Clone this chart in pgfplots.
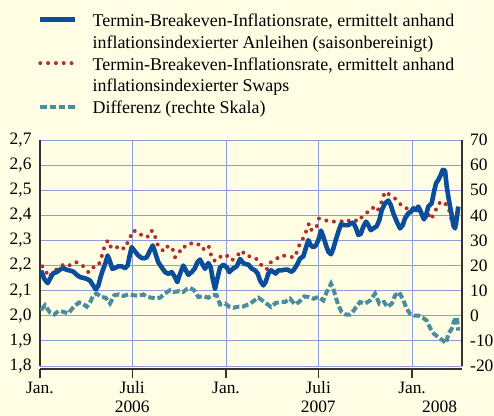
\documentclass[border=0pt]{standalone}
\usepackage{pgfplots}
\pgfplotsset{compat=1.18}
\usepackage{pgfplotstable}
\usepackage{fontspec}
\setmainfont{Liberation Serif}
\definecolor{bgc}{HTML}{FFFDE4}
\definecolor{gridc}{HTML}{8C9EDA}
\definecolor{bluec}{HTML}{0A4E9B}
\definecolor{redc}{HTML}{B0302E}
\definecolor{tealc}{HTML}{4A8D9E}
\definecolor{axisc}{HTML}{333333}

% x = days since 1 Jan 2006
\pgfplotstableread{
x y
2 2.18
8.4 2.147
15.1 2.13
19.6 2.147
26.1 2.17
32.8 2.174
39.2 2.184
45.7 2.19
52.4 2.183
58.9 2.18
65.3 2.176
72.0 2.163
78.5 2.154
85.0 2.151
91.6 2.147
98.1 2.14
104.6 2.12
109.3 2.105
114.4 2.12
119.7 2.16
124.2 2.187
128.9 2.213
132.8 2.24
137.4 2.216
141.9 2.187
147.2 2.19
153.6 2.197
160.3 2.197
166.8 2.19
172.1 2.2
175.2 2.233
179.9 2.273
186.4 2.256
192.9 2.24
199.6 2.23
205 2.229
209.4 2.233
215.9 2.26
221.2 2.28
225.7 2.253
232.1 2.213
238.8 2.193
245.3 2.174
251.8 2.167
258.4 2.174
264.9 2.154
269.4 2.134
274.7 2.167
281.2 2.2
286.5 2.18
291.0 2.163
297.7 2.174
304.2 2.19
308.7 2.213
314.0 2.224
319.3 2.203
323.8 2.187
330.3 2.21
335.0 2.193
338.9 2.147
343.4 2.107
347.9 2.147
353.2 2.193
359.7 2.203
366.4 2.193
371.5 2.174
378.1 2.187
386.0 2.197
392.5 2.226
398.9 2.21
404 2.205
408.8 2.204
415.4 2.188
421.9 2.181
427.2 2.168
431.7 2.141
438.2 2.121
442.9 2.135
448.0 2.168
453.3 2.181
457.8 2.175
462.5 2.168
467.6 2.181
474.3 2.181
480.8 2.184
486.1 2.184
492.5 2.175
497.1 2.181
503.7 2.201
510.2 2.228
516.7 2.237
521.4 2.268
526.5 2.301
531.2 2.281
536.3 2.272
541.6 2.281
546.1 2.301
551.4 2.339
555.9 2.315
561.2 2.281
565.7 2.255
571.0 2.245
575.5 2.268
580.2 2.301
585.4 2.335
590.7 2.365
597.1 2.361
605.0 2.361
610 2.368
614.8 2.371
620.1 2.348
624.6 2.322
629.3 2.326
634.4 2.355
639.7 2.375
644.2 2.361
648.9 2.341
654.0 2.348
660.7 2.357
665.8 2.381
670.5 2.421
677.0 2.448
683.5 2.459
688.2 2.441
693.3 2.408
700.0 2.375
706.4 2.348
711.7 2.361
716.2 2.388
722.7 2.408
728.0 2.415
732.5 2.428
737.8 2.421
742.3 2.435
747.0 2.415
751.0 2.395
753.5 2.384
757.4 2.401
761.9 2.435
768.6 2.448
773.1 2.494
777.1 2.528
781.6 2.541
786.3 2.561
790.2 2.581
794.7 2.578
798.1 2.514
801.2 2.474
804.5 2.435
807.8 2.401
811.0 2.361
814.3 2.348
817.7 2.388
820.8 2.435
}\bluetab

\pgfplotstableread{
x y
4.5 2.197
11.1 2.18
16.4 2.154
26.1 2.171
34.7 2.19
45.7 2.203
55.6 2.197
65.3 2.213
73.9 2.213
85.0 2.197
94.8 2.174
101.4 2.193
109.9 2.193
117.7 2.213
122.3 2.246
126.2 2.273
132.8 2.3
139.3 2.273
147.2 2.266
155.6 2.28
165.4 2.266
176.6 2.31
181.9 2.339
192.9 2.335
200.7 2.317
210.6 2.313
217.2 2.339
223.7 2.335
227.0 2.306
232.1 2.277
243.3 2.256
251.8 2.28
260.4 2.264
264.9 2.233
272.8 2.249
278.1 2.275
286.5 2.275
295.7 2.289
304.2 2.28
314.0 2.286
322.4 2.262
331.0 2.277
335.0 2.246
340.1 2.22
348.7 2.22
356.6 2.242
366.4 2.24
376.2 2.22
386.0 2.237
395.8 2.26
404.2 2.237
416.6 2.237
428.4 2.221
436.2 2.195
444.9 2.185
451.3 2.211
462.5 2.224
472.9 2.241
486.1 2.237
499.0 2.232
505.7 2.261
510.2 2.291
518.6 2.315
523.4 2.344
527.9 2.368
533.2 2.339
543.0 2.357
547.5 2.388
555.9 2.384
567.1 2.375
578.9 2.375
590.7 2.377
599.9 2.371
610.3 2.384
618.1 2.381
624.6 2.375
634.4 2.401
644.2 2.415
652.8 2.431
660.7 2.415
667.2 2.435
671.7 2.464
677.0 2.494
686.8 2.481
695.3 2.47
705.1 2.448
716.2 2.428
729.4 2.428
739.2 2.408
745.7 2.424
751.0 2.395
755.5 2.384
760.8 2.411
766.7 2.384
775.1 2.411
779.6 2.441
788.3 2.457
798.1 2.441
804.5 2.411
807.8 2.377
812.4 2.348
817.7 2.368
}\redtab

\pgfplotstableread{
x y
2.0 2.3
9.8 4.2
19.6 1.3
28.1 0.5
35.9 1.9
45.7 1.6
55.6 0.9
63.4 2.9
70.0 4.2
76.5 5.3
83.0 4.9
91.6 3.6
98.1 5.3
104.6 8.2
111.2 8.9
119.7 7.5
128.9 7.2
137.4 4.9
145.8 8.2
155.0 8.5
163.5 7.9
173.3 8.5
183.1 8.2
192.9 7.9
202.7 8.5
210.6 7.5
219.2 7.2
229.0 6.9
235.5 7.2
245.3 8.9
255.1 10.2
262.9 9.5
273.4 9.8
281.2 9.5
287.9 10.6
294.3 11.1
302.2 10.2
310.6 7.5
320.4 7.8
330.3 7.2
338.9 8.2
346.7 8.2
353.2 4.5
363.0 4.9
371.5 3.6
379.3 3.2
389.1 3.6
398.9 3.7
412.1 4.8
420.5 6.1
428.4 7.2
436.2 6.1
444.9 4.8
453.3 3.5
462.5 5.1
472.9 5.5
480.8 5.5
490.6 6.8
500.4 4.5
508.2 5.5
518.6 7.7
526.5 7.5
536.3 6.8
546.1 7.5
555.9 6.1
562.6 9.5
571.0 12.8
575.5 10.8
580.2 7.5
585.4 4.1
592.0 1.5
599.9 0.5
608.3 0.5
616.8 2.4
620.1 3.5
627.9 5.5
637.7 4.8
647.6 6.1
657.4 8.8
665.8 4.8
675.0 5.5
681.5 3.5
690.2 4.8
696.6 8.1
705.1 9.4
712.9 6.1
719.6 2.8
726.1 0.8
734.5 0.1
742.3 0.1
751.0 -0.8
758.8 -1.9
765.3 -4.8
773.1 -7.2
781.6 -8.5
790.2 -9.8
796.7 -10.9
801.2 -7.2
807.8 -5.2
812.4 -2.1
817.7 -0.5
820.8 -5.9
}\tealtab

\tikzset{
  blueline/.style={bluec, line width=4.6bp, line join=round},
  reddots/.style={redc, line width=4bp, line cap=round, dash pattern=on 0pt off 7.8bp},
  tealdash/.style={tealc, line width=4bp, dash pattern=on 6.5bp off 2.8bp},
}

\begin{document}
\begin{tikzpicture}
\fill[bgc] (-40bp,-50bp) rectangle (454bp,366bp);
\pgfplotsset{
  base/.style={
    scale only axis, width=422bp, height=226bp,
    xmin=0, xmax=828,
    axis line style={axisc, line width=1.2bp, -},
    ticklabel style={font=\fontsize{17.5}{19}\selectfont},
    /pgf/number format/assume math mode=true,
  }
}
\begin{axis}[base,
  ymin=1.8, ymax=2.7,
  ytick={1.8,1.9,2.0,2.1,2.2,2.3,2.4,2.5,2.6,2.7},
  yticklabel style={/pgf/number format/use comma, /pgf/number format/fixed, /pgf/number format/fixed zerofill, /pgf/number format/precision=1},
  separate axis lines,
  axis y line*=left, axis x line*=bottom,
  x axis line style={yshift=-3bp},
  xtick={0,181,365,546,730},
  xticklabels={Jan.,Juli\\2006,Jan.,Juli\\2007,Jan.},
  extra x ticks={784},
  extra x tick labels={\vphantom{Jul}\\2008},
  extra x tick style={xmajorgrids=false, tick style={draw=none}},
  xtick align=outside,
  xtick style={yshift=-3bp, axisc, line width=1.2bp},
  major tick length=9bp,
  ytick style={draw=none},
  x tick label style={align=center, anchor=north, inner sep=0pt, yshift=-6.5bp},
  y tick label style={anchor=east, inner sep=0pt, xshift=-8.3bp},
  xmajorgrids, ymajorgrids,
  major grid style={gridc, line width=0.9bp},
  legend cell align=left,
  legend image code/.code={\draw[#1] (0bp,3bp) -- (35bp,3bp);},
  legend style={at={(axis description cs:0,1)}, anchor=north west,
    xshift=-2bp, yshift=125.3bp, draw=none, fill=none,
    inner sep=0pt, outer sep=0pt, row sep=5.7bp, column sep=15bp,
    font=\fontsize{18}{21.7}\selectfont,
    nodes={inner sep=0pt, text height=12bp, text depth=4bp}},
]
\addlegendimage{blueline}
\addlegendentry{Termin-Breakeven-Inflationsrate, ermittelt anhand}
\addlegendimage{empty legend}
\addlegendentry{inflationsindexierter Anleihen (saisonbereinigt)}
\addlegendimage{reddots}
\addlegendentry{Termin-Breakeven-Inflationsrate, ermittelt anhand}
\addlegendimage{empty legend}
\addlegendentry{inflationsindexierter Swaps}
\addlegendimage{tealdash}
\addlegendentry{Differenz (rechte Skala)}
\addplot[reddots, forget plot] table[x=x, y=y] {\redtab};
\addplot[blueline, forget plot] table[x=x, y=y] {\bluetab};
\end{axis}
\begin{axis}[base,
  ymin=-20, ymax=70,
  ytick={-20,-10,0,10,20,30,40,50,60,70},
  axis y line*=right, axis x line=none,
  ytick style={draw=none},
  y tick label style={anchor=west, inner sep=0pt, xshift=8bp},
]
\addplot[tealdash] table[x=x, y=y] {\tealtab};
\end{axis}
\pgfresetboundingbox
\path[use as bounding box] (-40bp,-50bp) rectangle (454bp,366bp);
\end{tikzpicture}
\end{document}
